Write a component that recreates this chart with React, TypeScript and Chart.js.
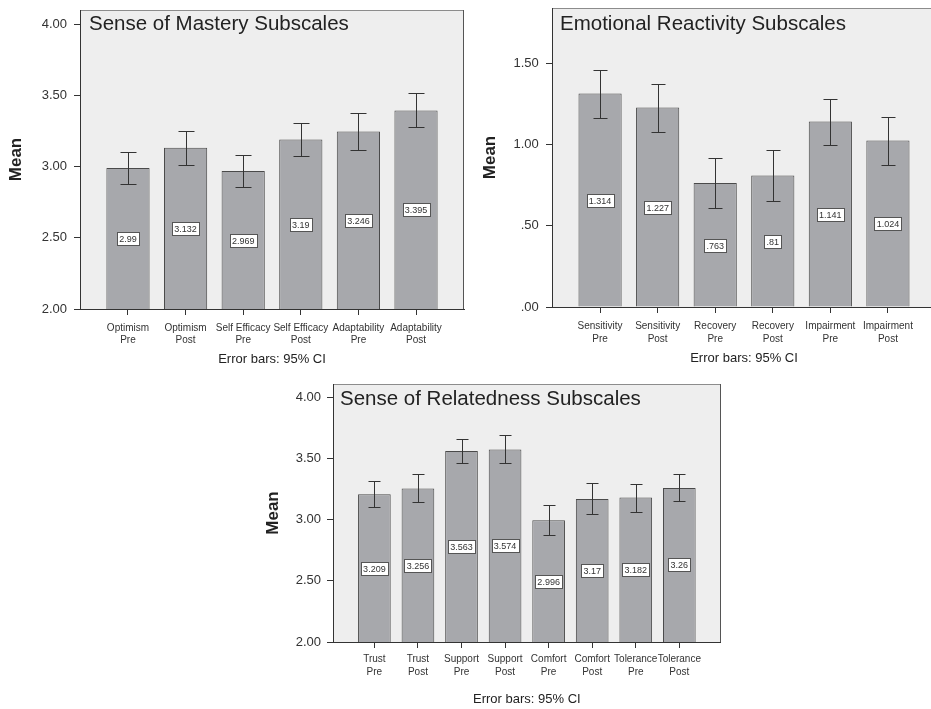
import React, { useEffect, useRef } from 'react';
import { Chart, registerables } from 'chart.js';

Chart.register(...registerables);

const FONT = "'Liberation Sans', Arial, Helvetica, sans-serif";
Chart.defaults.font.family = FONT;

// ---------- Data ----------
const masteryTitle = 'Sense of Mastery Subscales';
const masteryCategories = [['Optimism', 'Pre'], ['Optimism', 'Post'], ['Self Efficacy', 'Pre'], ['Self Efficacy', 'Post'], ['Adaptability', 'Pre'], ['Adaptability', 'Post']];
const masteryMeans = [2.99, 3.132, 2.969, 3.19, 3.246, 3.395];
const masteryLower = [2.88, 3.01, 2.86, 3.075, 3.12, 3.277];
const masteryUpper = [3.1, 3.253, 3.082, 3.308, 3.378, 3.519];
const masteryTicks = [2, 2.5, 3, 3.5, 4];

const reactivityTitle = 'Emotional Reactivity Subscales';
const reactivityCategories = [['Sensitivity', 'Pre'], ['Sensitivity', 'Post'], ['Recovery', 'Pre'], ['Recovery', 'Post'], ['Impairment', 'Pre'], ['Impairment', 'Post']];
const reactivityMeans = [1.314, 1.227, 0.763, 0.81, 1.141, 1.024];
const reactivityLower = [1.162, 1.078, 0.608, 0.655, 0.996, 0.872];
const reactivityUpper = [1.461, 1.373, 0.916, 0.965, 1.281, 1.17];
const reactivityTicks = [0, 0.5, 1, 1.5];

const relatednessTitle = 'Sense of Relatedness Subscales';
const relatednessCategories = [['Trust', 'Pre'], ['Trust', 'Post'], ['Support', 'Pre'], ['Support', 'Post'], ['Comfort', 'Pre'], ['Comfort', 'Post'], ['Tolerance', 'Pre'], ['Tolerance', 'Post']];
const relatednessMeans = [3.209, 3.256, 3.563, 3.574, 2.996, 3.17, 3.182, 3.26];
const relatednessLower = [3.102, 3.141, 3.465, 3.46, 2.871, 3.043, 3.067, 3.151];
const relatednessUpper = [3.315, 3.375, 3.661, 3.689, 3.121, 3.304, 3.296, 3.37];
const relatednessTicks = [2, 2.5, 3, 3.5, 4];

const xAxisTitle = 'Error bars: 95% CI';
const yAxisTitle = 'Mean';

// ---------- Helpers ----------
const spssNum = (v: number, digits?: number) => {
  const s = digits === undefined ? String(v) : v.toFixed(digits);
  return s.startsWith('0.') ? s.slice(1) : s;
};

interface PanelCfg {
  title: string;
  categories: string[][];
  means: number[];
  lower: number[];
  upper: number[];
  yTicks: number[];
  yMin: number;
  yMax: number;
  left: number;
  top: number;
  width: number;
  height: number;
  padTop: number;
  padRight: number;
  yWidth: number;
  xHeight: number;
  margin: number;
  xTickPad: number;
  xLine: number;
  yTickPad: number;
  yTitlePad: number;
  xTitlePad: number;
  titleDx: number;
  titleDy: number;
  cap: number;
}

const panels: PanelCfg[] = [
  {
    title: masteryTitle, categories: masteryCategories, means: masteryMeans, lower: masteryLower, upper: masteryUpper,
    yTicks: masteryTicks, yMin: 2, yMax: 4.1,
    left: 0, top: 0, width: 470, height: 370, padTop: 10, padRight: 6, yWidth: 80, xHeight: 61,
    margin: 0.833, xTickPad: 7.7, xLine: 12, yTickPad: 7, yTitlePad: 6.5, xTitlePad: 2.8,
    titleDx: 9, titleDy: 20, cap: 16,
  },
  {
    title: reactivityTitle, categories: reactivityCategories, means: reactivityMeans, lower: reactivityLower, upper: reactivityUpper,
    yTicks: reactivityTicks, yMin: 0, yMax: 1.84,
    left: 466, top: 0, width: 480, height: 370, padTop: 8, padRight: 10, yWidth: 86, xHeight: 63,
    margin: 0.835, xTickPad: 6.5, xLine: 13, yTickPad: 7.3, yTitlePad: 13.8, xTitlePad: 3.5,
    titleDx: 8, titleDy: 22, cap: 14,
  },
  {
    title: relatednessTitle, categories: relatednessCategories, means: relatednessMeans, lower: relatednessLower, upper: relatednessUpper,
    yTicks: relatednessTicks, yMin: 2, yMax: 4.11,
    left: 240, top: 360, width: 490, height: 349, padTop: 24, padRight: 9.3, yWidth: 93, xHeight: 67,
    margin: 0.95, xTickPad: 4.8, xLine: 13, yTickPad: 6, yTitlePad: 23, xTitlePad: 1.8,
    titleDx: 7, titleDy: 21, cap: 12,
  },
];

const makePlugin = (cfg: PanelCfg) => ({
  id: 'panelDeco',
  beforeDraw(chart: any) {
    const { ctx, chartArea: a } = chart;
    ctx.save();
    ctx.fillStyle = '#eeeeee';
    ctx.fillRect(a.left, a.top, a.right - a.left, a.bottom - a.top);
    ctx.lineWidth = 1;
    ctx.strokeStyle = '#8c8c8c';
    ctx.beginPath();
    ctx.moveTo(a.left, Math.round(a.top) + 0.5);
    ctx.lineTo(a.right, Math.round(a.top) + 0.5);
    ctx.stroke();
    ctx.strokeStyle = '#555555';
    ctx.beginPath();
    ctx.moveTo(Math.round(a.right) - 0.5, a.top);
    ctx.lineTo(Math.round(a.right) - 0.5, a.bottom);
    ctx.stroke();
    ctx.fillStyle = '#222222';
    ctx.font = `20.5px ${FONT}`;
    ctx.textAlign = 'left';
    ctx.textBaseline = 'alphabetic';
    ctx.fillText(cfg.title, a.left + cfg.titleDx, a.top + cfg.titleDy);
    ctx.restore();
  },
  afterDatasetsDraw(chart: any) {
    const { ctx, chartArea } = chart;
    const yScale = chart.scales.y;
    const meta = chart.getDatasetMeta(0);
    ctx.save();
    meta.data.forEach((bar: any, i: number) => {
      const p = bar.getProps(['x', 'y'], true);
      const x = Math.round(p.x) + 0.5;
      const yu = Math.round(yScale.getPixelForValue(cfg.upper[i])) + 0.5;
      const yl = Math.round(yScale.getPixelForValue(cfg.lower[i])) + 0.5;
      ctx.strokeStyle = '#333333';
      ctx.lineWidth = 1;
      ctx.beginPath();
      ctx.moveTo(x, yu);
      ctx.lineTo(x, yl);
      ctx.moveTo(x - cfg.cap / 2, yu);
      ctx.lineTo(x + cfg.cap / 2, yu);
      ctx.moveTo(x - cfg.cap / 2, yl);
      ctx.lineTo(x + cfg.cap / 2, yl);
      ctx.stroke();

      const text = spssNum(cfg.means[i]);
      ctx.font = `9px ${FONT}`;
      const tw = ctx.measureText(text).width;
      const bw = Math.round(tw + 4);
      const bh = 13;
      const cy = (p.y + chartArea.bottom) / 2;
      const bx = Math.round(p.x - bw / 2) + 0.5;
      const by = Math.round(cy - bh / 2) + 0.5;
      ctx.fillStyle = '#ffffff';
      ctx.fillRect(bx, by, bw, bh);
      ctx.strokeStyle = '#555555';
      ctx.strokeRect(bx, by, bw, bh);
      ctx.fillStyle = '#333333';
      ctx.textAlign = 'center';
      ctx.textBaseline = 'middle';
      ctx.fillText(text, p.x, by + bh / 2 + 0.5);
    });
    ctx.restore();
  },
});

function Panel({ cfg }: { cfg: PanelCfg }) {
  const ref = useRef<HTMLCanvasElement>(null);
  useEffect(() => {
    const cats = cfg.categories;
    const gridOpts = { display: true, drawOnChartArea: false, drawTicks: true, tickLength: 6, color: '#333333', offset: false };
    const borderOpts = { display: true, color: '#333333', width: 1 };
    const zeroPad = (s: any) => {
      s.paddingTop = 0;
      s.paddingBottom = 0;
      s.paddingLeft = 0;
      s.paddingRight = 0;
    };
    const chart = new Chart(ref.current as HTMLCanvasElement, {
      type: 'bar',
      data: {
        datasets: [
          {
            data: cfg.means.map((v, i) => ({ x: i, y: v })),
            backgroundColor: '#a7a8ac',
            borderColor: '#4a4a4a',
            borderWidth: 1,
            barPercentage: 0.75,
            categoryPercentage: 1,
          },
        ],
      },
      options: {
        responsive: false,
        animation: false,
        devicePixelRatio: 1,
        layout: { padding: { left: 0, top: cfg.padTop, right: cfg.padRight, bottom: 0 } },
        plugins: { legend: { display: false }, tooltip: { enabled: false }, title: { display: false } },
        scales: {
          x: {
            type: 'linear',
            min: -cfg.margin,
            max: cats.length - 1 + cfg.margin,
            offset: false,
            afterBuildTicks: (axis: any) => {
              axis.ticks = cats.map((_, i) => ({ value: i }));
            },
            afterFit: (s: any) => {
              s.height = cfg.xHeight;
              zeroPad(s);
            },
            grid: gridOpts,
            border: borderOpts,
            ticks: {
              autoSkip: false,
              maxRotation: 0,
              minRotation: 0,
              padding: cfg.xTickPad,
              color: '#333333',
              font: { size: 10, lineHeight: cfg.xLine / 10 },
              callback: (v: any) => cats[Math.round(Number(v))] || '',
            },
            title: {
              display: true,
              text: xAxisTitle,
              color: '#222222',
              font: { size: 13 },
              padding: { top: 0, bottom: cfg.xTitlePad },
            },
          },
          y: {
            type: 'linear',
            min: cfg.yMin,
            max: cfg.yMax,
            beginAtZero: false,
            afterBuildTicks: (axis: any) => {
              axis.ticks = cfg.yTicks.map((v) => ({ value: v }));
            },
            afterFit: (s: any) => {
              s.width = cfg.yWidth;
              zeroPad(s);
            },
            grid: gridOpts,
            border: borderOpts,
            ticks: {
              padding: cfg.yTickPad,
              color: '#333333',
              font: { size: 13 },
              callback: (v: any) => spssNum(Number(v), 2),
            },
            title: {
              display: true,
              text: yAxisTitle,
              color: '#222222',
              font: { size: 17, weight: 'bold' },
              padding: { top: cfg.yTitlePad, bottom: 0 },
            },
          },
        },
      },
      plugins: [makePlugin(cfg)],
    } as any);
    return () => chart.destroy();
  }, [cfg]);
  return (
    <canvas
      ref={ref}
      width={cfg.width}
      height={cfg.height}
      style={{ position: 'absolute', left: cfg.left, top: cfg.top, width: cfg.width, height: cfg.height }}
    />
  );
}

export default function App() {
  return (
    <div style={{ position: 'absolute', left: 0, top: 0, width: 931, height: 709, overflow: 'hidden', background: '#ffffff' }}>
      {panels.map((cfg, i) => (
        <Panel key={i} cfg={cfg} />
      ))}
    </div>
  );
}
